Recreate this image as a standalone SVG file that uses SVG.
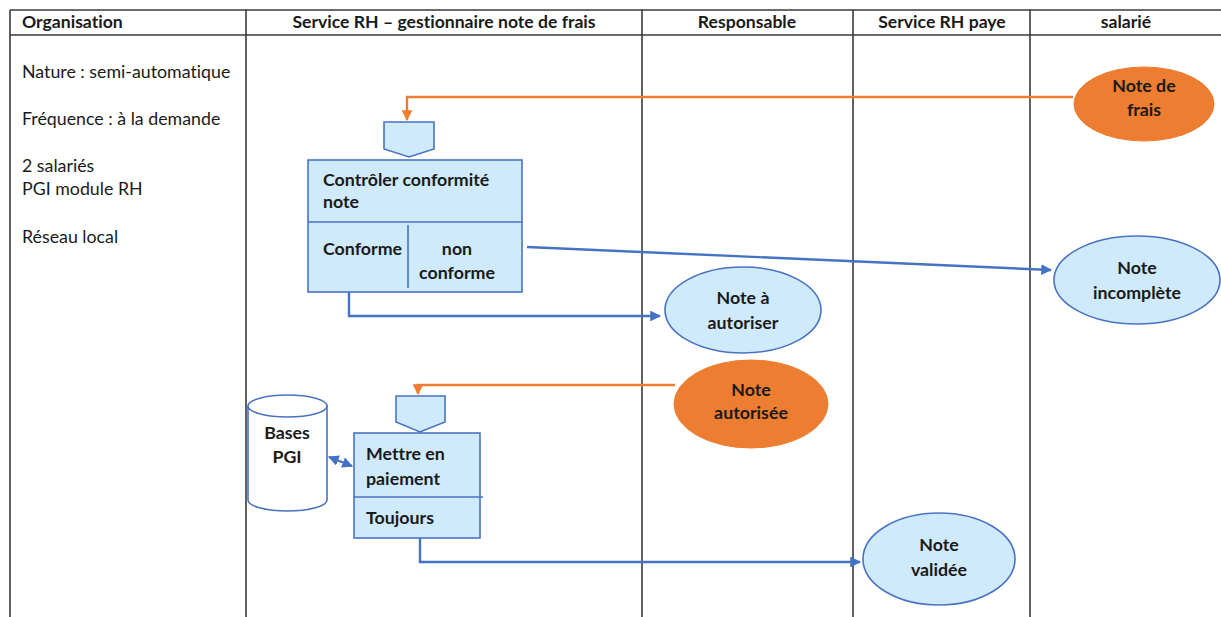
<svg xmlns="http://www.w3.org/2000/svg" width="1221" height="617" viewBox="0 0 1221 617">
<style>
text{font-variant-ligatures:none}
.grid{stroke:#3a3a3a;stroke-width:1.6;fill:none}
.hd{font-family:Lato,"Liberation Sans",sans-serif;font-weight:bold;font-size:17.6px;fill:#1a1a1a;text-anchor:middle}
.lt{font-family:Lato,"Liberation Sans",sans-serif;font-size:17.8px;fill:#1a1a1a}
.nt{font-family:Lato,"Liberation Sans",sans-serif;font-weight:bold;font-size:17.8px;fill:#1a1a1a}
.c{text-anchor:middle}
.bl{fill:#cfeafc;stroke:#4a72c4;stroke-width:1.6}
.or{fill:#ed7d31;stroke:#ed7d31;stroke-width:1}
.cb{fill:none;stroke:#4472c4;stroke-width:2.4}
.co{fill:none;stroke:#ed7d31;stroke-width:2.4}
</style>
<defs>
<marker id="ab" viewBox="0 0 10 10" refX="9" refY="5" markerWidth="4.5" markerHeight="4.5" orient="auto-start-reverse"><path d="M0,0L10,5L0,10z" fill="#4472c4"/></marker>
<marker id="ao" viewBox="0 0 10 10" refX="9" refY="5" markerWidth="4.5" markerHeight="4.5" orient="auto"><path d="M0,0L10,5L0,10z" fill="#ed7d31"/></marker>
</defs>
<g id="table">
<line class="grid" x1="10" y1="10" x2="1221" y2="10"/>
<line class="grid" x1="10" y1="35" x2="1221" y2="35"/>
<line class="grid" x1="10" y1="10" x2="10" y2="617"/>
<line class="grid" x1="246" y1="10" x2="246" y2="617"/>
<line class="grid" x1="642" y1="10" x2="642" y2="617"/>
<line class="grid" x1="853" y1="10" x2="853" y2="617"/>
<line class="grid" x1="1030" y1="10" x2="1030" y2="617"/>
<text class="hd" x="22" y="28" style="text-anchor:start">Organisation</text>
<text class="hd" x="444" y="28">Service RH – gestionnaire note de frais</text>
<text class="hd" x="747" y="28">Responsable</text>
<text class="hd" x="942" y="28">Service RH paye</text>
<text class="hd" x="1126" y="28">salarié</text>
<text class="lt" x="22" y="78">Nature : semi-automatique</text>
<text class="lt" x="22" y="125">Fréquence : à la demande</text>
<text class="lt" x="22" y="172">2 salariés</text>
<text class="lt" x="22" y="195">PGI module RH</text>
<text class="lt" x="22" y="243">Réseau local</text>
</g>
<g id="connectors">
<polyline class="co" points="1073,97 407,97 407,120" marker-end="url(#ao)"/>
<polyline class="cb" points="349,292 349,316 660,316" marker-end="url(#ab)"/>
<line class="cb" x1="527" y1="247" x2="1051" y2="270" marker-end="url(#ab)"/>
<polyline class="co" points="675,385 418,385 418,394" marker-end="url(#ao)"/>
<line class="cb" x1="329" y1="457" x2="352" y2="466" marker-start="url(#ab)" marker-end="url(#ab)"/>
<polyline class="cb" points="420,538 420,562 860,562" marker-end="url(#ab)"/>
</g>
<g id="note-de-frais">
<ellipse class="or" cx="1144" cy="104" rx="70" ry="37"/>
<text class="nt c" x="1144" y="92">Note de</text>
<text class="nt c" x="1144" y="116">frais</text>
</g>
<g id="controler">
<path class="bl" d="M384,122H434V149L409,157L384,149Z"/>
<rect class="bl" x="308" y="160" width="214" height="132"/>
<line class="bl" x1="308" y1="222" x2="522" y2="222"/>
<line class="bl" x1="408" y1="225" x2="408" y2="288"/>
<text class="nt" x="323" y="186">Contrôler conformité</text>
<text class="nt" x="323" y="208">note</text>
<text class="nt" x="323" y="255">Conforme</text>
<text class="nt c" x="457" y="255">non</text>
<text class="nt c" x="457" y="279">conforme</text>
</g>
<g id="note-a-autoriser">
<ellipse class="bl" cx="743" cy="310" rx="78" ry="43"/>
<text class="nt c" x="743" y="304">Note à</text>
<text class="nt c" x="743" y="329">autoriser</text>
</g>
<g id="note-incomplete">
<ellipse class="bl" cx="1137" cy="280" rx="83" ry="44"/>
<text class="nt c" x="1137" y="274">Note</text>
<text class="nt c" x="1137" y="299">incomplète</text>
</g>
<g id="note-autorisee">
<ellipse class="or" cx="751" cy="404" rx="77" ry="44"/>
<text class="nt c" x="751" y="396">Note</text>
<text class="nt c" x="751" y="419">autorisée</text>
</g>
<g id="bases-pgi">
<path d="M248,406V500A39.5,11 0 0 0 327,500V406" fill="#fff" stroke="#4a72c4" stroke-width="1.6"/>
<ellipse cx="287.5" cy="406" rx="39.5" ry="11" fill="#fff" stroke="#4a72c4" stroke-width="1.6"/>
<text class="nt c" x="287" y="439">Bases</text>
<text class="nt c" x="287" y="463">PGI</text>
</g>
<g id="mettre-en-paiement">
<path class="bl" d="M396,396H445V422L420,432L396,422Z"/>
<rect class="bl" x="354" y="433" width="126" height="105"/>
<line class="bl" x1="354" y1="497" x2="483" y2="497"/>
<text class="nt" x="366" y="460">Mettre en</text>
<text class="nt" x="366" y="485">paiement</text>
<text class="nt" x="366" y="524">Toujours</text>
</g>
<g id="note-validee">
<ellipse class="bl" cx="939" cy="559" rx="76" ry="46"/>
<text class="nt c" x="939" y="551">Note</text>
<text class="nt c" x="939" y="576">validée</text>
</g>
</svg>
